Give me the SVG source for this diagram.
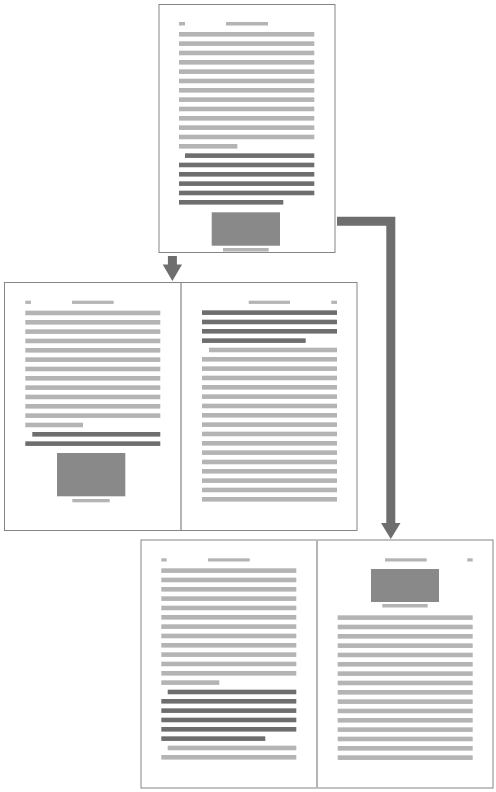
<svg xmlns="http://www.w3.org/2000/svg" width="496" height="792" viewBox="0 0 496 792">
<style>
.page{fill:#fff;stroke:#858585;stroke-width:1}
.div{stroke:#b5b5b5;stroke-width:2}
.l{fill:#b4b4b4}
.d{fill:#6e6e6e}
.img{fill:#898989}
.conn{fill:none;stroke:#6e6e6e;stroke-width:9;stroke-linejoin:miter}
.head{fill:#6e6e6e}
</style>
<rect width="496" height="792" fill="#fff"/>
<g id="page-a">
<rect class="page" x="159" y="4.5" width="176" height="248"/>
<rect class="l" x="179" y="22" width="6" height="3.5"/>
<rect class="l" x="226" y="22" width="42" height="3.5"/>
<rect class="l" x="179" y="32" width="135.3" height="4.6"/>
<rect class="l" x="179" y="41.33" width="135.3" height="4.6"/>
<rect class="l" x="179" y="50.67" width="135.3" height="4.6"/>
<rect class="l" x="179" y="60" width="135.3" height="4.6"/>
<rect class="l" x="179" y="69.33" width="135.3" height="4.6"/>
<rect class="l" x="179" y="78.67" width="135.3" height="4.6"/>
<rect class="l" x="179" y="88" width="135.3" height="4.6"/>
<rect class="l" x="179" y="97.33" width="135.3" height="4.6"/>
<rect class="l" x="179" y="106.67" width="135.3" height="4.6"/>
<rect class="l" x="179" y="116" width="135.3" height="4.6"/>
<rect class="l" x="179" y="125.33" width="135.3" height="4.6"/>
<rect class="l" x="179" y="134.67" width="135.3" height="4.6"/>
<rect class="l" x="179" y="144" width="58.3" height="4.6"/>
<rect class="d" x="185" y="153.33" width="129.3" height="4.6"/>
<rect class="d" x="179" y="162.67" width="135.3" height="4.6"/>
<rect class="d" x="179" y="172" width="135.3" height="4.6"/>
<rect class="d" x="179" y="181.33" width="135.3" height="4.6"/>
<rect class="d" x="179" y="190.67" width="135.3" height="4.6"/>
<rect class="d" x="179" y="200" width="104.3" height="4.6"/>
<rect class="img" x="211.7" y="212.3" width="68.3" height="33.4"/>
<rect class="l" x="223" y="248" width="45.7" height="3.5"/>
</g>
<g id="spread-b">
<rect class="page" x="4.5" y="282.5" width="352.5" height="248"/>
<line class="div" x1="181" y1="283" x2="181" y2="530"/>
<g id="spread-b-left">
<rect class="l" x="25.3" y="300.7" width="5.7" height="3.2"/>
<rect class="l" x="72" y="300.7" width="41.7" height="3.2"/>
<rect class="l" x="25.3" y="310.67" width="135" height="4.6"/>
<rect class="l" x="25.3" y="320" width="135" height="4.6"/>
<rect class="l" x="25.3" y="329.33" width="135" height="4.6"/>
<rect class="l" x="25.3" y="338.67" width="135" height="4.6"/>
<rect class="l" x="25.3" y="348" width="135" height="4.6"/>
<rect class="l" x="25.3" y="357.33" width="135" height="4.6"/>
<rect class="l" x="25.3" y="366.67" width="135" height="4.6"/>
<rect class="l" x="25.3" y="376" width="135" height="4.6"/>
<rect class="l" x="25.3" y="385.33" width="135" height="4.6"/>
<rect class="l" x="25.3" y="394.67" width="135" height="4.6"/>
<rect class="l" x="25.3" y="404" width="135" height="4.6"/>
<rect class="l" x="25.3" y="413.33" width="135" height="4.6"/>
<rect class="l" x="25.3" y="422.67" width="57.7" height="4.6"/>
<rect class="d" x="32.3" y="432" width="128" height="4.6"/>
<rect class="d" x="25.3" y="441.33" width="135" height="4.6"/>
<rect class="img" x="57" y="453" width="68.3" height="43.3"/>
<rect class="l" x="72.3" y="499" width="37.4" height="3.3"/>
</g>
<g id="spread-b-right">
<rect class="l" x="248.7" y="300.7" width="41.3" height="3.2"/>
<rect class="l" x="331.3" y="300.7" width="5.7" height="3.2"/>
<rect class="d" x="202" y="310.33" width="135" height="4.6"/>
<rect class="d" x="202" y="319.67" width="135" height="4.6"/>
<rect class="d" x="202" y="329" width="135" height="4.6"/>
<rect class="d" x="202" y="338.33" width="103.7" height="4.6"/>
<rect class="l" x="209" y="347.67" width="128" height="4.6"/>
<rect class="l" x="202" y="357" width="135" height="4.6"/>
<rect class="l" x="202" y="366.33" width="135" height="4.6"/>
<rect class="l" x="202" y="375.67" width="135" height="4.6"/>
<rect class="l" x="202" y="385" width="135" height="4.6"/>
<rect class="l" x="202" y="394.33" width="135" height="4.6"/>
<rect class="l" x="202" y="403.67" width="135" height="4.6"/>
<rect class="l" x="202" y="413" width="135" height="4.6"/>
<rect class="l" x="202" y="422.33" width="135" height="4.6"/>
<rect class="l" x="202" y="431.67" width="135" height="4.6"/>
<rect class="l" x="202" y="441" width="135" height="4.6"/>
<rect class="l" x="202" y="450.33" width="135" height="4.6"/>
<rect class="l" x="202" y="459.67" width="135" height="4.6"/>
<rect class="l" x="202" y="469" width="135" height="4.6"/>
<rect class="l" x="202" y="478.33" width="135" height="4.6"/>
<rect class="l" x="202" y="487.67" width="135" height="4.6"/>
<rect class="l" x="202" y="497" width="135" height="4.6"/>
</g>
</g>
<g id="spread-c">
<rect class="page" x="141" y="540" width="352" height="248"/>
<line class="div" x1="317" y1="540.5" x2="317" y2="787.5"/>
<g id="spread-c-left">
<rect class="l" x="161.3" y="558.3" width="5.4" height="3.2"/>
<rect class="l" x="208" y="558.3" width="41.7" height="3.2"/>
<rect class="l" x="161.3" y="568.33" width="135" height="4.6"/>
<rect class="l" x="161.3" y="577.67" width="135" height="4.6"/>
<rect class="l" x="161.3" y="587" width="135" height="4.6"/>
<rect class="l" x="161.3" y="596.33" width="135" height="4.6"/>
<rect class="l" x="161.3" y="605.67" width="135" height="4.6"/>
<rect class="l" x="161.3" y="615" width="135" height="4.6"/>
<rect class="l" x="161.3" y="624.33" width="135" height="4.6"/>
<rect class="l" x="161.3" y="633.67" width="135" height="4.6"/>
<rect class="l" x="161.3" y="643" width="135" height="4.6"/>
<rect class="l" x="161.3" y="652.33" width="135" height="4.6"/>
<rect class="l" x="161.3" y="661.67" width="135" height="4.6"/>
<rect class="l" x="161.3" y="671" width="135" height="4.6"/>
<rect class="l" x="161.3" y="680.33" width="58" height="4.6"/>
<rect class="d" x="167.7" y="689.67" width="128.6" height="4.6"/>
<rect class="d" x="161.3" y="699" width="135" height="4.6"/>
<rect class="d" x="161.3" y="708.33" width="135" height="4.6"/>
<rect class="d" x="161.3" y="717.67" width="135" height="4.6"/>
<rect class="d" x="161.3" y="727" width="135" height="4.6"/>
<rect class="d" x="161.3" y="736.33" width="104" height="4.6"/>
<rect class="l" x="167.7" y="745.67" width="128.6" height="4.6"/>
<rect class="l" x="161.3" y="755" width="135" height="4.6"/>
</g>
<g id="spread-c-right">
<rect class="l" x="385" y="558.3" width="41.7" height="3.2"/>
<rect class="l" x="467.3" y="558.3" width="5.4" height="3.2"/>
<rect class="img" x="371" y="569" width="68" height="33"/>
<rect class="l" x="382.3" y="604" width="45.4" height="3.5"/>
<rect class="l" x="337.7" y="615.33" width="135" height="4.6"/>
<rect class="l" x="337.7" y="624.67" width="135" height="4.6"/>
<rect class="l" x="337.7" y="634" width="135" height="4.6"/>
<rect class="l" x="337.7" y="643.33" width="135" height="4.6"/>
<rect class="l" x="337.7" y="652.67" width="135" height="4.6"/>
<rect class="l" x="337.7" y="662" width="135" height="4.6"/>
<rect class="l" x="337.7" y="671.33" width="135" height="4.6"/>
<rect class="l" x="337.7" y="680.67" width="135" height="4.6"/>
<rect class="l" x="337.7" y="690" width="135" height="4.6"/>
<rect class="l" x="337.7" y="699.33" width="135" height="4.6"/>
<rect class="l" x="337.7" y="708.67" width="135" height="4.6"/>
<rect class="l" x="337.7" y="718" width="135" height="4.6"/>
<rect class="l" x="337.7" y="727.33" width="135" height="4.6"/>
<rect class="l" x="337.7" y="736.67" width="135" height="4.6"/>
<rect class="l" x="337.7" y="746" width="135" height="4.6"/>
<rect class="l" x="337.7" y="755.33" width="135" height="4.6"/>
</g>
</g>
<g id="connectors">
<path class="conn" d="M172.4,256 V265"/>
<polygon class="head" points="162.7,264.5 182,264.5 172.4,281"/>
<path class="conn" d="M337,221.3 H390.8 V523.5"/>
<polygon class="head" points="381,523 400.5,523 390.8,539"/>
</g>
</svg>
